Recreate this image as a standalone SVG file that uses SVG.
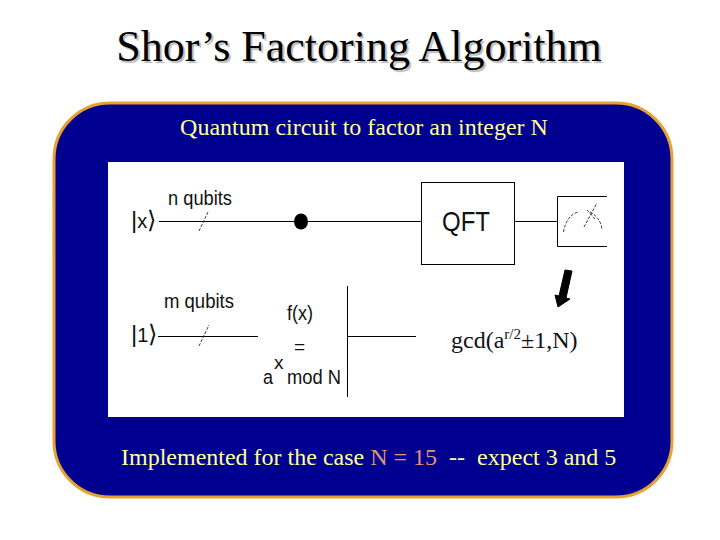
<svg xmlns="http://www.w3.org/2000/svg" width="720" height="540" viewBox="0 0 720 540">
<style>
.s{font-family:"Liberation Serif",serif}
.a{font-family:"Liberation Sans",sans-serif;fill:#111}
.y{fill:#ffff99;font-size:24px}
.l{stroke:#000;stroke-width:1;fill:none}
.t{stroke:#222;stroke-width:.9;fill:none;stroke-dasharray:3 1.5}
</style>
<rect width="720" height="540" fill="#fff"/>
<g id="title" class="s" font-size="44" text-anchor="middle">
<text x="359" y="61" fill="#000" style="text-shadow:2px 2px 1px #b8b8b8">Shor’s Factoring Algorithm</text>
</g>
<g id="panel">
<rect x="54" y="103" width="618" height="394" rx="56" ry="56" fill="#000090" stroke="#e8a030" stroke-width="3"/>
<rect x="108" y="162" width="516" height="255" fill="#fff"/>
<text class="s y" x="364" y="135" text-anchor="middle">Quantum circuit to factor an integer N</text>
<text class="s y" x="121" y="465" xml:space="preserve">Implemented for the case <tspan fill="#e09478">N = 15</tspan>  --  expect 3 and 5</text>
</g>
<g id="connectors">
<path class="l" d="M159 221.500H421M505 221.500H557M158 336.500H258M347.500 286V397M347 336.500H416"/>
<path class="t" d="M199 231L208 212M199 346L209 325"/>
</g>
<g id="control"><ellipse cx="301" cy="221.500" rx="7" ry="8" fill="#000"/></g>
<g id="input-x" class="a"><text x="131" y="228" font-size="24">|<tspan font-size="20">x</tspan>⟩</text><text x="168" y="205" font-size="21" textLength="64" lengthAdjust="spacingAndGlyphs">n qubits</text></g>
<g id="input-1" class="a"><text x="131" y="342" font-size="24">|<tspan font-size="20">1</tspan>⟩</text><text x="164" y="308" font-size="21" textLength="70" lengthAdjust="spacingAndGlyphs">m qubits</text></g>
<g id="function" class="a" font-size="20.500">
<text x="287" y="320" textLength="26" lengthAdjust="spacingAndGlyphs">f(x)</text>
<text x="294" y="353" font-size="19">=</text>
<text x="263" y="384" textLength="10" lengthAdjust="spacingAndGlyphs">a</text>
<text x="274" y="369" font-size="19">x</text>
<text x="287" y="384" textLength="54" lengthAdjust="spacingAndGlyphs">mod N</text>
</g>
<g id="qft"><rect x="421.500" y="182.500" width="93" height="82" fill="#fff" stroke="#000" stroke-width="1"/><text class="a" x="442" y="231" font-size="28" textLength="48" lengthAdjust="spacingAndGlyphs">QFT</text></g>
<g id="meter">
<path class="l" d="M607 196.500H557.500V246.500H607"/>
<path class="t" d="M563.500 232Q566 216 578 212M590 212Q600 217 602 229M584 227L597 203M587 210L595 219"/>
</g>
<g id="arrow"><polygon points="565,270 572,271 566,298 570,299 558,307 555,295 559,296" fill="#000" stroke="#000"/></g>
<g id="result"><text class="s" x="451" y="348" font-size="24" fill="#111">gcd(a<tspan font-size="15" dy="-9">r/2</tspan><tspan dy="9">±1,N)</tspan></text></g>
</svg>
